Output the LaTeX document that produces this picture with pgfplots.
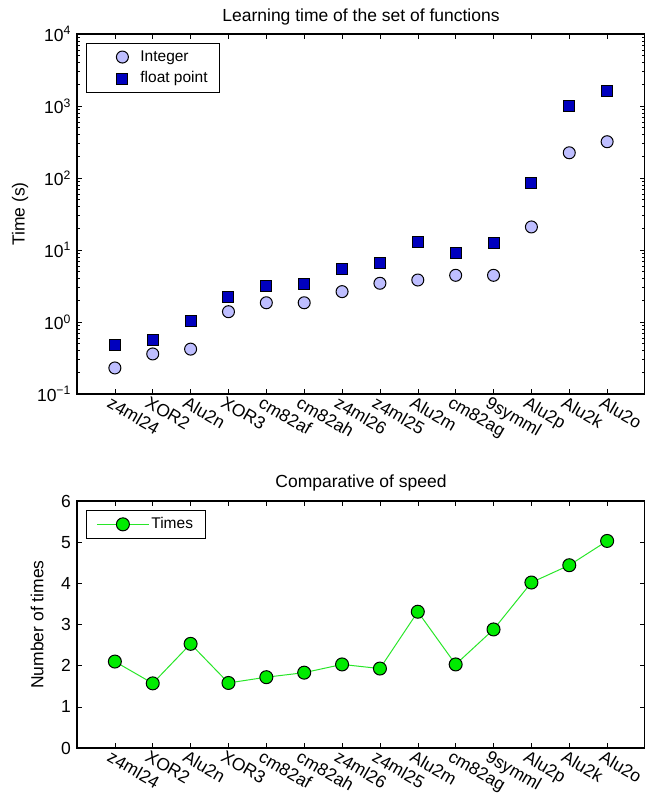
\documentclass[border=0pt]{standalone}
\usepackage{fontspec}
\setmainfont{Liberation Sans}
\usepackage{pgfplots}
\pgfplotsset{compat=1.18}
\definecolor{intfill}{RGB}{190,190,255}
\definecolor{fltfill}{RGB}{0,0,190}
\definecolor{grnfill}{RGB}{0,235,0}
\definecolor{grnline}{RGB}{40,230,40}
\begin{document}
\fontsize{17.5}{20}\selectfont
\begin{tikzpicture}[x=1pt,y=1pt]
\pgfplotsset{
  common/.style={
    scale only axis, width=568pt,
    xmin=0, xmax=15, xtick={1,...,14},
    xticklabels={z4ml24,XOR2,Alu2n,XOR3,cm82af,cm82ah,z4ml26,z4ml25,Alu2m,cm82ag,9symml,Alu2p,Alu2k,Alu2o},
    x tick label style={rotate=-30, anchor=north west, inner sep=0.5pt, xshift=-2pt, yshift=-2pt},
    tick label style={font=\fontsize{17.5}{20}\selectfont},
    label style={font=\fontsize{17.5}{20}\selectfont},
    title style={font=\fontsize{17.5}{20}\selectfont, anchor=center},
    tick align=inside, major tick length=5pt, minor tick length=3pt,
    axis line style={line width=1.2pt},
    every tick/.style={black, line width=0.6pt},
    tick pos=both,
    /pgf/number format/assume math mode=true,
    legend style={at={(axis description cs:0,1)}, anchor=north west, xshift=9pt, yshift=-9pt,
      draw=black, line width=0.8pt, fill=white, font=\fontsize{15.5}{18}\selectfont,
      inner xsep=10pt, inner ysep=5pt, row sep=4pt},
    legend cell align=left,
    legend image code/.code={\path[draw=none,fill=none] (0pt,-1pt) rectangle (42pt,1pt);\draw[mark repeat=2,mark phase=2,##1] plot coordinates {(0pt,0pt) (26pt,0pt) (52pt,0pt)};},
  }
}
\begin{axis}[common, at={(77pt,399pt)}, anchor=south west, height=360pt,
  ymode=log, ymin=0.1, ymax=10000,
  ytick={0.1,1,10,100,1000,10000},
  yticklabels={10\textsuperscript{−1},10\textsuperscript{0},10\textsuperscript{1},10\textsuperscript{2},10\textsuperscript{3},10\textsuperscript{4}},
  ylabel={Time (s)},
  ylabel style={at={(axis description cs:-0.1,0.5)}, anchor=center},
  title={Learning time of the set of functions},
  title style={at={(axis description cs:0.5,1)}, yshift=11pt},
]
\addplot[only marks, mark=*, mark size=6pt, mark options={fill=intfill, draw=black, line width=1pt}]
  coordinates {(1,0.23) (2,0.36) (3,0.42) (4,1.39) (5,1.85) (6,1.85) (7,2.64) (8,3.45) (9,3.83) (10,4.45) (11,4.45) (12,20.9) (13,224) (14,319)};
\addlegendentry{Integer}
\addplot[only marks, mark=square*, mark size=5.5pt, mark options={fill=fltfill, draw=black, line width=1pt}]
  coordinates {(1,0.48) (2,0.56) (3,1.04) (4,2.2) (5,3.16) (6,3.34) (7,5.4) (8,6.5) (9,12.8) (10,9.0) (11,12.6) (12,84) (13,1010) (14,1615)};
\addlegendentry{float point\hspace{10pt}}
\end{axis}
\begin{axis}[common, at={(77pt,45pt)}, anchor=south west, height=247pt,
  ymin=0, ymax=6, ytick={0,1,2,3,4,5,6},
  ylabel={Number of times},
  ylabel style={at={(axis description cs:-0.0704,0.5)}, anchor=center},
  title={Comparative of speed},
  title style={at={(axis description cs:0.5,1)}, yshift=12pt},
]
\addplot[color=grnline, line width=1pt, mark=*, mark size=6.5pt, mark options={fill=grnfill, draw=black, line width=1pt}]
  coordinates {(1,2.10) (2,1.57) (3,2.53) (4,1.58) (5,1.72) (6,1.83) (7,2.03) (8,1.93) (9,3.31) (10,2.03) (11,2.88) (12,4.02) (13,4.44) (14,5.03)};
\addlegendentry{Times}
\end{axis}
\pgfresetboundingbox
\useasboundingbox (0pt,0pt) rectangle (645pt,793pt);
\end{tikzpicture}
\end{document}
